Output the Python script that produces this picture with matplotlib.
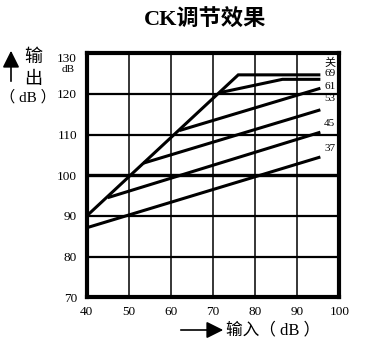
import matplotlib
matplotlib.use("Agg")
import matplotlib.pyplot as plt

# ---- data ----
x_ticks = [40, 50, 60, 70, 80, 90, 100]
y_ticks = [70, 80, 90, 100, 110, 120, 130]
series_names = ["关", "69", "61", "53", "45", "37"]
x_off = [40, 76, 95.5]
y_off = [90, 124.7, 124.7]
x_69 = [71.5, 86.5, 95.5]
y_69 = [120.3, 123.6, 123.6]
x_61 = [62, 95.5]
y_61 = [111, 121.4]
x_53 = [53.5, 95.5]
y_53 = [103, 116.1]
x_45 = [45, 95.5]
y_45 = [94.5, 110.6]
x_37 = [40, 95.5]
y_37 = [87.1, 104.5]

series_x = [x_off, x_69, x_61, x_53, x_45, x_37]
series_y = [y_off, y_69, y_61, y_53, y_45, y_37]
label_dy = [2.9, 1.4, 0.4, 2.8, 2.2, 2.0]

serif = ["Liberation Serif", "Noto Sans CJK SC"]
cjk = ["Noto Sans CJK SC", "DejaVu Sans"]

W, H = 368, 349
fig = plt.figure(figsize=(W / 100, H / 100), dpi=100)
L, R, T, B = 86.7, 339.3, 53.3, 297.3
ax = fig.add_axes([L / W, 1 - B / H, (R - L) / W, (B - T) / H])
ax.set_xlim(40, 100)
ax.set_ylim(70, 130)

# grid
for yv in y_ticks[1:-1]:
    lw = 2.4 if yv == 100 else 1.6
    ax.axhline(yv, color="black", lw=lw, zorder=1)
for xv in x_ticks[1:-1]:
    ax.axvline(xv, color="black", lw=1.1, zorder=1)

for s in ax.spines.values():
    s.set_linewidth(3.0)

# data lines
for xs, ys in zip(series_x, series_y):
    ax.plot(xs, ys, color="black", lw=2.2, solid_capstyle="butt",
            solid_joinstyle="miter", zorder=3)

# right labels
for name, ys, dy in zip(series_names, series_y, label_dy):
    ax.text(96.4, ys[-1] + dy, name, fontsize=8, family=serif,
            ha="left", va="center", clip_on=False)

ax.set_xticks(x_ticks)
ax.set_xticklabels([str(v) for v in x_ticks], family=serif, fontsize=9.5)
ax.set_yticks(y_ticks)
ax.set_yticklabels([str(v) for v in y_ticks], family=serif, fontsize=9.5)
ax.tick_params(axis="both", length=0)
ax.tick_params(axis="x", pad=6)
ax.tick_params(axis="y", pad=7)
for lbl in ax.get_yticklabels():
    if lbl.get_text() == "130":
        lbl.set_va("top")

# "dB" under 130
fig.text(68 / W, 1 - 69 / H, "dB", family=serif, fontsize=8, ha="center", va="center")

# title
fig.text(205 / W, 1 - 20 / H, "CK调节效果", family=serif, fontsize=16,
         fontweight="bold", ha="center", va="center")

# y axis label with up arrow
fig.patches.append(matplotlib.patches.FancyArrowPatch(
    (11 / W, 1 - 84 / H), (11 / W, 1 - 48 / H), transform=fig.transFigure,
    arrowstyle="-|>,head_length=6,head_width=3", color="black", lw=1.2,
    mutation_scale=1.7))
fig.text(33 / W, 1 - 57 / H, "输", family=cjk, fontsize=13, ha="center", va="center")
fig.text(33 / W, 1 - 79 / H, "出", family=cjk, fontsize=13, ha="center", va="center")
fig.text(28 / W, 1 - 97 / H, "（ dB ）", family=serif, fontsize=11, ha="center", va="center")

# x axis label with right arrow
fig.patches.append(matplotlib.patches.FancyArrowPatch(
    (178 / W, 1 - 330 / H), (226 / W, 1 - 330 / H), transform=fig.transFigure,
    arrowstyle="-|>,head_length=6,head_width=3", color="black", lw=1.2,
    mutation_scale=1.7))
fig.text(226 / W, 1 - 330 / H, "输入（ dB ）", family=serif, fontsize=12,
         ha="left", va="center")

fig.savefig("out.png", dpi=100)
